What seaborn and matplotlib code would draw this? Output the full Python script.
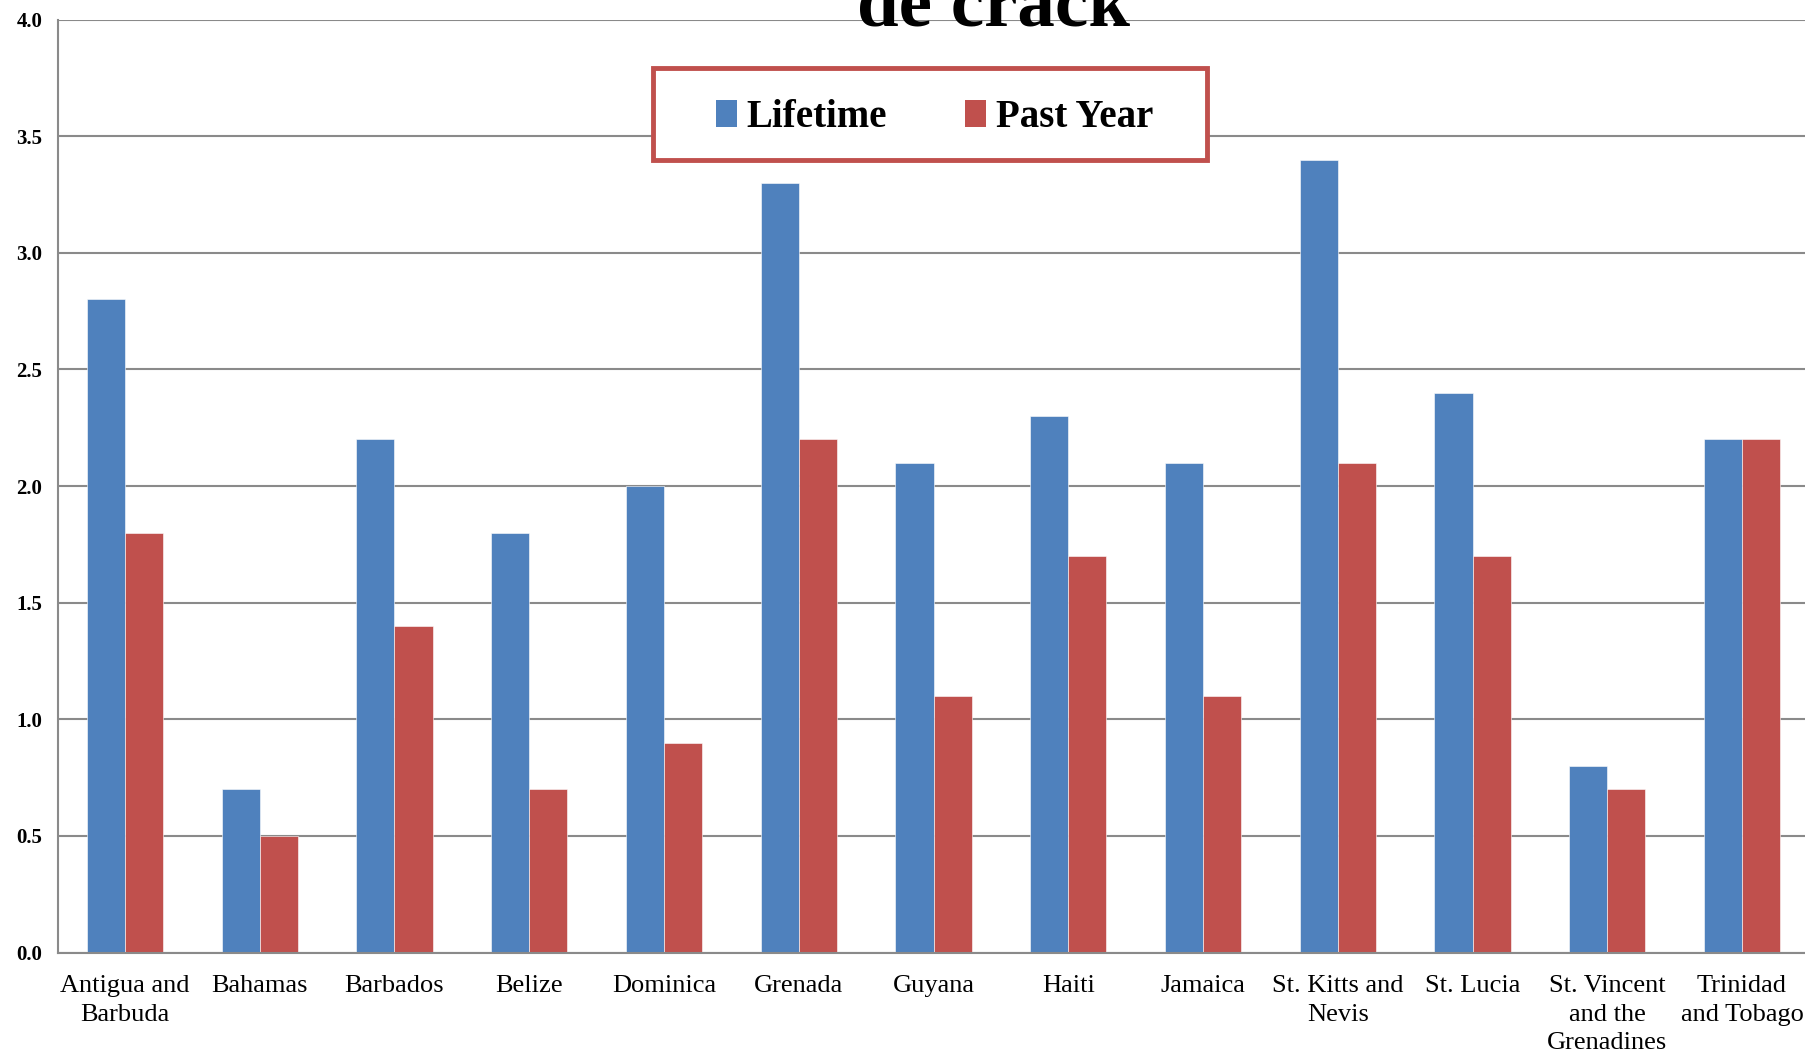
import matplotlib
matplotlib.use("Agg")
import matplotlib.pyplot as plt
import seaborn as sns
import pandas as pd
from matplotlib.patches import Patch, Rectangle

countries = ["Antigua and\nBarbuda", "Bahamas", "Barbados", "Belize", "Dominica",
             "Grenada", "Guyana", "Haiti", "Jamaica", "St. Kitts and\nNevis",
             "St. Lucia", "St. Vincent\nand the\nGrenadines", "Trinidad\nand Tobago"]
lifetime = [2.8, 0.7, 2.2, 1.8, 2.0, 3.3, 2.1, 2.3, 2.1, 3.4, 2.4, 0.8, 2.2]
past_year = [1.8, 0.5, 1.4, 0.7, 0.9, 2.2, 1.1, 1.7, 1.1, 2.1, 1.7, 0.7, 2.2]
series = ["Lifetime", "Past Year"]
colors = ["#4F81BD", "#C0504D"]
yticks = [0.0, 0.5, 1.0, 1.5, 2.0, 2.5, 3.0, 3.5, 4.0]

df = pd.DataFrame({
    "country": countries * 2,
    "value": lifetime + past_year,
    "series": [series[0]] * len(countries) + [series[1]] * len(countries),
})

sns.set_style("white")
plt.rcParams["font.family"] = ["Liberation Serif", "DejaVu Serif"]
plt.rcParams["text.color"] = "black"
plt.rcParams["xtick.color"] = "black"
plt.rcParams["ytick.color"] = "black"

fig = plt.figure(figsize=(18.06, 10.57), dpi=100)
ax = fig.add_axes([0.0319, 0.0988, 0.9700, 0.8827])

sns.barplot(data=df, x="country", y="value", hue="series", palette=colors,
            width=0.565, ax=ax, edgecolor="white", linewidth=0.4,
            saturation=1, legend=False)

ax.set_xlim(-0.5, len(countries) - 0.5)
ax.set_ylim(0, 4.0)
ax.set_yticks(yticks)
ax.set_yticklabels([f"{v:.1f}" for v in yticks], fontsize=15, fontweight="bold")
ax.yaxis.grid(True, color="#8a8a8a", linewidth=1.5)
ax.set_axisbelow(True)
ax.tick_params(axis="y", length=7, width=1.5, color="#8a8a8a", labelcolor="black", pad=4)

ax.set_xticks(range(len(countries)))
ax.set_xticklabels(countries, fontsize=19, linespacing=1.4)
ax.tick_params(axis="x", which="major", length=0, pad=16, labelcolor="black")
ax.set_xticks([i - 0.5 for i in range(len(countries) + 1)], minor=True)
ax.tick_params(axis="x", which="minor", length=7, width=1.5, color="#8a8a8a")
ax.set_xlabel("")
ax.set_ylabel("")

for s in ["top", "right"]:
    ax.spines[s].set_visible(False)
for s in ["left", "bottom"]:
    ax.spines[s].set_color("#8a8a8a")
    ax.spines[s].set_linewidth(1.5)

# title runs off the top edge, as in the source image
fig.text(0.55, 0.976, "de crack", ha="center", va="baseline",
         fontsize=54, fontweight="bold", color="black")

# legend box (Excel-style red frame)
fig.patches.append(Rectangle((0.3616, 0.8486), 0.3068, 0.0870,
                             transform=fig.transFigure, facecolor="white",
                             edgecolor="#C0504D", linewidth=3.5, zorder=5))
handles = [Patch(facecolor=c, edgecolor="none") for c in colors]
leg = fig.legend(handles, series, ncol=2, loc="center",
                 bbox_to_anchor=(0.5175, 0.889),
                 prop={"size": 28, "weight": "bold"}, frameon=False,
                 handlelength=0.55, handleheight=0.7, handletextpad=0.25,
                 columnspacing=2.0, borderpad=0.0, borderaxespad=0)
leg.set_zorder(6)

fig.savefig("out.png", dpi=100)
